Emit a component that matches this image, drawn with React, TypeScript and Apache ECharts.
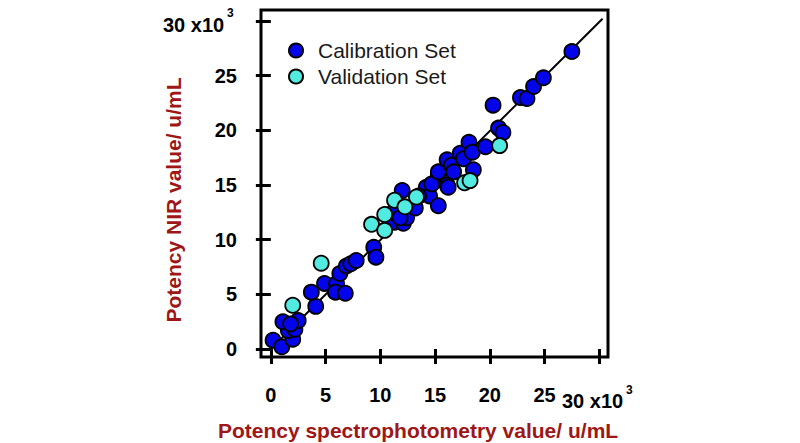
import React, { useEffect, useRef } from "react";
import * as echarts from "echarts";

const calX = [0.2, 1.0, 2.0, 1.6, 2.2, 1.1, 2.5, 1.8, 4.1, 3.7, 4.9, 6.0, 5.9, 6.8, 6.3, 6.9, 7.3, 7.8, 9.4, 9.6, 11.3, 12.1, 12.4, 11.2, 13.2, 12.0, 14.2, 14.5, 15.3, 15.3, 16.1, 14.7, 15.3, 16.1, 16.5, 16.7, 16.2, 17.3, 17.6, 18.1, 18.4, 18.5, 19.6, 20.3, 20.8, 21.2, 22.8, 23.4, 24.0, 24.9, 27.5, 11.8, 13.5];
const calY = [0.8, 0.2, 0.9, 1.7, 1.8, 2.5, 2.6, 2.3, 3.9, 5.2, 6.0, 6.0, 5.2, 5.1, 6.9, 7.6, 7.8, 8.1, 9.3, 8.4, 11.6, 11.5, 12.0, 12.5, 12.9, 14.5, 14.8, 14.0, 13.1, 15.9, 15.0, 15.1, 16.2, 17.3, 16.8, 16.2, 14.8, 17.9, 17.4, 18.9, 18.0, 16.4, 18.5, 22.3, 20.2, 19.8, 23.0, 22.9, 24.0, 24.8, 27.2, 12.0, 14.0];
const valX = [2.0, 4.6, 9.2, 10.4, 10.4, 11.3, 12.25, 13.3, 17.7, 18.2, 20.9];
const valY = [4.0, 7.85, 11.4, 10.85, 12.3, 13.6, 13.0, 13.9, 15.2, 15.4, 18.6];
const fitX = [0, 30.3];
const fitY = [0, 30.2];
const tickValues = [0, 5, 10, 15, 20, 25, 30];
const labelValues = [0, 5, 10, 15, 20, 25];
const seriesNames = ["Calibration Set", "Validation Set"];
const xTitle = "Potency spectrophotometry value/ u/mL";
const yTitle = "Potency NIR value/ u/mL";

const FONT = '"Liberation Sans", Arial, sans-serif';
const RED = "#9e1616";

export default function App() {
  const ref = useRef<HTMLDivElement>(null);
  useEffect(() => {
    if (!ref.current) return;
    const chart = echarts.init(ref.current, undefined, { renderer: "svg" });
    const zip = (xs: number[], ys: number[]) => xs.map((x, i) => [x, ys[i]]);
    const axisCommon = {
      type: "value",
      splitLine: { show: false },
      axisLine: { show: false },
      axisTick: {
        show: true,
        inside: false,
        length: 15,
        lineStyle: { color: "#000", width: 3 },
        customValues: tickValues,
      },
    };
    chart.setOption({
      animation: false,
      backgroundColor: "#fff",
      grid: {
        left: 261,
        top: 10,
        right: 192,
        bottom: 86,
        show: true,
        borderColor: "#000",
        borderWidth: 3,
      },
      xAxis: {
        ...axisCommon,
        min: -0.9,
        max: 30.8,
        axisLabel: {
          customValues: labelValues,
          margin: 28,
          fontFamily: FONT,
          fontWeight: "bold",
          fontSize: 20,
          color: "#000",
        },
      },
      yAxis: {
        ...axisCommon,
        min: -0.73,
        max: 31.0,
        axisLabel: {
          customValues: labelValues,
          margin: 24,
          fontFamily: FONT,
          fontWeight: "bold",
          fontSize: 20,
          color: "#000",
        },
      },
      legend: {
        data: seriesNames,
        orient: "vertical",
        left: 283,
        top: 35,
        itemWidth: 14,
        itemHeight: 14,
        itemGap: 5,
        icon: "circle",
        textStyle: {
          fontFamily: FONT,
          fontSize: 21,
          color: "#1a1a1a",
          padding: [0, 0, 0, 10],
        },
      },
      series: [
        {
          type: "line",
          name: "fit",
          data: zip(fitX, fitY),
          symbol: "none",
          lineStyle: { color: "#000", width: 2 },
          z: 1,
        },
        {
          type: "scatter",
          name: seriesNames[0],
          data: zip(calX, calY),
          symbolSize: 15,
          itemStyle: { color: "#0404ea", borderColor: "#000", borderWidth: 1.8, opacity: 1 },
          z: 2,
        },
        {
          type: "scatter",
          name: seriesNames[1],
          data: zip(valX, valY),
          symbolSize: 15,
          itemStyle: { color: "#52ebe2", borderColor: "#000", borderWidth: 1.8, opacity: 1 },
          z: 3,
        },
      ],
      graphic: [
        {
          type: "text",
          x: 163,
          y: 25,
          style: { text: "30 x10", font: `bold 20px ${FONT}`, fill: "#000", align: "left", verticalAlign: "middle" },
        },
        {
          type: "text",
          x: 227,
          y: 13,
          style: { text: "3", font: `bold 12px ${FONT}`, fill: "#000", align: "left", verticalAlign: "middle" },
        },
        {
          type: "text",
          x: 562,
          y: 401,
          style: { text: "30 x10", font: `bold 20px ${FONT}`, fill: "#000", align: "left", verticalAlign: "middle" },
        },
        {
          type: "text",
          x: 626,
          y: 390,
          style: { text: "3", font: `bold 12px ${FONT}`, fill: "#000", align: "left", verticalAlign: "middle" },
        },
        {
          type: "text",
          x: 418,
          y: 430,
          style: { text: xTitle, font: `bold 21px ${FONT}`, fill: RED, align: "center", verticalAlign: "middle" },
        },
        {
          type: "text",
          x: 173,
          y: 200,
          rotation: Math.PI / 2,
          style: { text: yTitle, font: `bold 21px ${FONT}`, fill: RED, align: "center", verticalAlign: "middle" },
        },
      ],
    });
    return () => chart.dispose();
  }, []);
  return <div ref={ref} style={{ width: 800, height: 443, position: "fixed", left: 0, top: 0 }} />;
}
